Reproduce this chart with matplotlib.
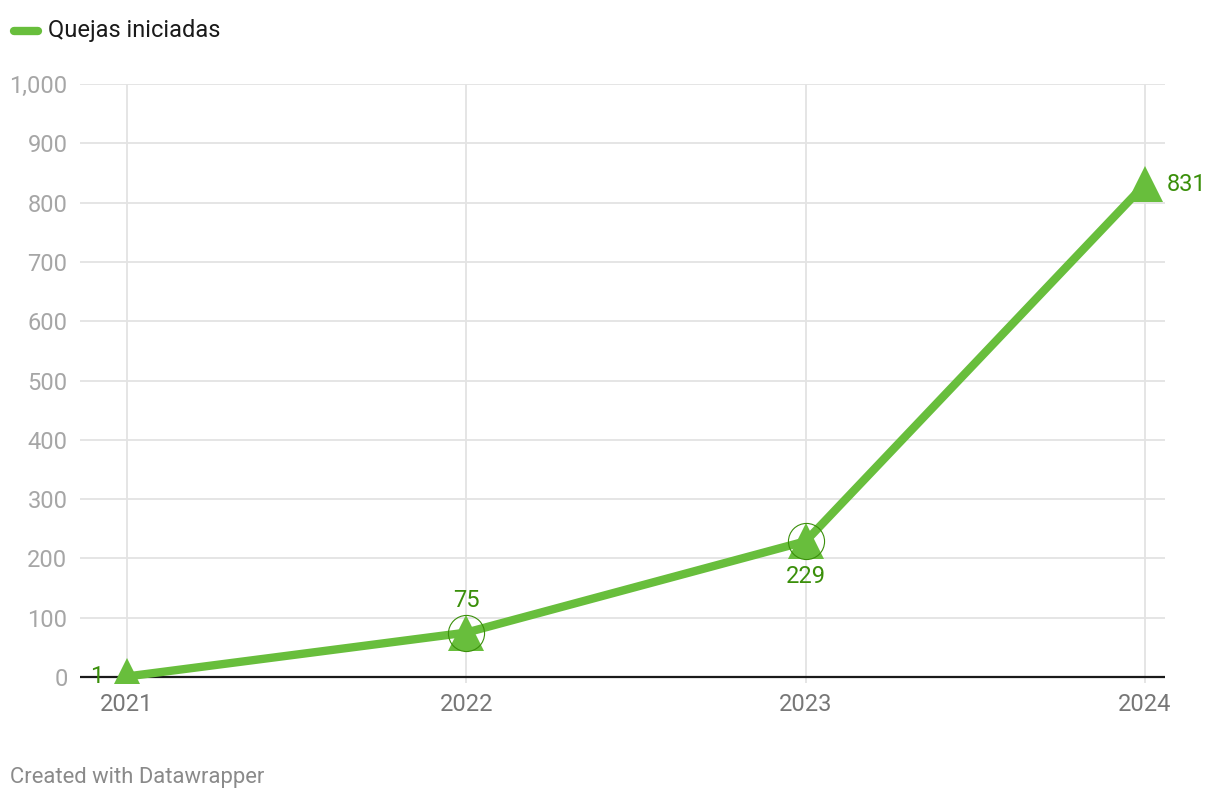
import matplotlib
matplotlib.use("Agg")
import matplotlib.pyplot as plt

years = [2021, 2022, 2023, 2024]
values = [1, 75, 229, 831]
series_name = "Quejas iniciadas"
yticks = [0, 100, 200, 300, 400, 500, 600, 700, 800, 900, 1000]

plt.rcParams['font.family'] = ['Roboto', 'DejaVu Sans']

W, H = 1220, 800
fig = plt.figure(figsize=(W / 100, H / 100), dpi=100)
# y=0 at px 677, y=1000 at px 84, ylim bottom -10 -> px 683
ax = fig.add_axes([80 / W, (800 - 683) / H, (1165 - 80) / W, (683 - 84) / H])

line_c = '#68be3c'
lab_c = '#3a8f0a'

ax.set_xlim(2021 - 47 / 339.33, 2024 + 20 / 339.33)
ax.set_ylim(-10, 1000)

for yv in yticks[1:]:
    ax.axhline(yv, color='#e3e3e3', lw=1.3, zorder=1)
for x in years:
    ax.axvline(x, ymin=0, ymax=1, color='#e3e3e3', lw=1.3, zorder=1)
ax.axhline(0, color='#1a1a1a', lw=1.6, zorder=2)
ax.plot(years, values, color=line_c, lw=6, solid_capstyle='butt', zorder=3)
ax.plot(years, values, linestyle='none', marker='^', markersize=26,
        color=line_c, markeredgewidth=0, zorder=4)
for i in (1, 2):
    ax.plot(years[i], values[i], linestyle='none', marker='o', markersize=26,
            markerfacecolor='none', markeredgecolor=lab_c, markeredgewidth=0.8, zorder=5)

fs = 17
ax.annotate(str(values[0]), (years[0], values[0]), xytext=(-17, 0), textcoords='offset points',
            ha='right', va='center', color=lab_c, fontsize=fs, zorder=6)
ax.annotate(str(values[1]), (years[1], values[1]), xytext=(0, 15), textcoords='offset points',
            ha='center', va='bottom', color=lab_c, fontsize=fs, zorder=6)
ax.annotate(str(values[2]), (years[2], values[2]), xytext=(0, -17), textcoords='offset points',
            ha='center', va='top', color=lab_c, fontsize=fs, zorder=6)
ax.annotate(str(values[3]), (years[3], values[3]), xytext=(16, 0), textcoords='offset points',
            ha='left', va='center', color=lab_c, fontsize=fs, zorder=6)

ax.set_yticks(yticks)
ax.set_yticklabels([f"{v:,}" for v in yticks])
ax.set_xticks(years)
ax.set_xticklabels([str(y) for y in years])
ax.tick_params(axis='y', length=0, pad=9, labelsize=fs, labelcolor='#a6a6a6')
ax.tick_params(axis='x', length=0, pad=7, labelsize=fs, labelcolor='#777777')
for s in ax.spines.values():
    s.set_visible(False)

# legend
fig.add_artist(plt.Line2D([14 / W, 38 / W], [1 - 31 / H, 1 - 31 / H], color=line_c, lw=6,
                          solid_capstyle='round', transform=fig.transFigure))
fig.text(48 / W, 1 - 31 / H, series_name, ha='left', va='center', fontsize=fs, color='#1a1a1a')

fig.text(10 / W, 1 - 777 / H, "Created with Datawrapper", ha='left', va='center',
         fontsize=15.8, color='#8a8a8a')

fig.savefig('out.png', dpi=100, facecolor='white')
